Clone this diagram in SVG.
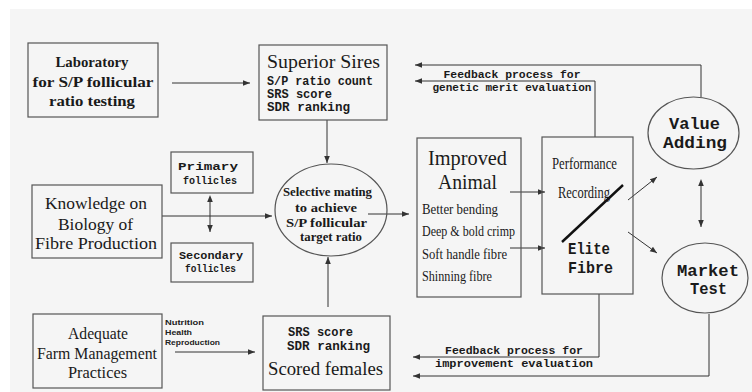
<svg xmlns="http://www.w3.org/2000/svg" width="752" height="392" viewBox="0 0 752 392">
<defs>
<style>
.box{fill:none;stroke:#555;stroke-width:1.2}
.ln{fill:none;stroke:#333;stroke-width:1}
.ser{font-family:"Liberation Serif","DejaVu Serif",serif;fill:#1a1a1a;text-anchor:middle}
.mono{font-family:"Liberation Mono","DejaVu Sans Mono",monospace;font-weight:bold;fill:#1a1a1a;text-anchor:middle}
.cond{font-family:"Liberation Serif","DejaVu Serif",serif;fill:#1a1a1a}
.sm{font-family:"Liberation Sans","DejaVu Sans",sans-serif;font-weight:bold;fill:#222;font-size:7px}
</style>
<marker id="ah" viewBox="0 0 10 10" refX="10" refY="5" markerWidth="7" markerHeight="7" orient="auto" markerUnits="userSpaceOnUse">
<path d="M0,1 L10,5 L0,9 z" fill="#333"/>
</marker>
<marker id="ahs" viewBox="0 0 10 10" refX="0" refY="5" markerWidth="7" markerHeight="7" orient="auto-start-reverse" markerUnits="userSpaceOnUse">
<path d="M0,1 L10,5 L0,9 z" fill="#333"/>
</marker>
</defs>
<rect x="0" y="0" width="752" height="392" fill="#ffffff"/>
<rect x="10" y="9" width="742" height="383" fill="#f5f5f5"/>

<g id="connectors">
<line class="ln" x1="172" y1="83" x2="250" y2="83" marker-end="url(#ah)"/>
<line class="ln" x1="327" y1="120" x2="327" y2="163" marker-end="url(#ah)"/>
<line class="ln" x1="162" y1="216" x2="272" y2="216" marker-end="url(#ah)"/>
<line class="ln" x1="210" y1="202" x2="210" y2="232" marker-start="url(#ahs)" marker-end="url(#ah)"/>
<line class="ln" x1="328" y1="307" x2="328" y2="257" marker-end="url(#ah)"/>
<line class="ln" x1="175" y1="352" x2="255" y2="352" marker-end="url(#ah)"/>
<line class="ln" x1="368" y1="214" x2="409" y2="214" marker-end="url(#ah)"/>
<line class="ln" x1="510" y1="192" x2="545" y2="192" marker-end="url(#ah)"/>
<line class="ln" x1="510" y1="248" x2="545" y2="248" marker-end="url(#ah)"/>
<line class="ln" x1="628" y1="200" x2="657" y2="177" marker-end="url(#ah)"/>
<line class="ln" x1="628" y1="232" x2="657" y2="253" marker-end="url(#ah)"/>
<line class="ln" x1="701" y1="186" x2="701" y2="227" marker-start="url(#ahs)" marker-end="url(#ah)"/>
<line x1="562" y1="242" x2="623" y2="185" stroke="#111" stroke-width="2.4"/>
<polyline class="ln" points="701,97 701,65 415,65" marker-end="url(#ah)"/>
<polyline class="ln" points="595,137 595,81 415,81" marker-end="url(#ah)"/>
<polyline class="ln" points="709,314 709,376 413,376" marker-end="url(#ah)"/>
<polyline class="ln" points="599,294 599,357 413,357" marker-end="url(#ah)"/>
<text class="mono" font-size="11" x="512" y="78" textLength="137" lengthAdjust="spacingAndGlyphs">Feedback process for</text>
<text class="mono" font-size="11" x="512" y="91" textLength="159" lengthAdjust="spacingAndGlyphs">genetic merit evaluation</text>
<text class="mono" font-size="11" x="514" y="354" textLength="138" lengthAdjust="spacingAndGlyphs">Feedback process for</text>
<text class="mono" font-size="11" x="514" y="367" textLength="158" lengthAdjust="spacingAndGlyphs">improvement evaluation</text>
<text class="sm" x="165" y="325" textLength="39" lengthAdjust="spacingAndGlyphs">Nutrition</text>
<text class="sm" x="165" y="335" textLength="27" lengthAdjust="spacingAndGlyphs">Health</text>
<text class="sm" x="165" y="345" textLength="55" lengthAdjust="spacingAndGlyphs">Reproduction</text>
</g>

<g id="laboratory">
<rect class="box" x="28" y="43" width="130" height="74"/>
<text class="ser" font-weight="bold" font-size="15" x="92" y="67" textLength="73" lengthAdjust="spacingAndGlyphs">Laboratory</text>
<text class="ser" font-weight="bold" font-size="15" x="93" y="87" textLength="121" lengthAdjust="spacingAndGlyphs">for S/P follicular</text>
<text class="ser" font-weight="bold" font-size="15" x="92" y="106" textLength="86" lengthAdjust="spacingAndGlyphs">ratio testing</text>
</g>

<g id="superior-sires">
<rect class="box" x="259" y="45" width="128" height="75"/>
<text class="ser" font-size="18" x="323.5" y="68" textLength="113" lengthAdjust="spacingAndGlyphs">Superior Sires</text>
<text class="mono" font-size="12" x="320" y="85" textLength="106" lengthAdjust="spacingAndGlyphs" text-anchor="start" style="text-anchor:start" dx="-53">S/P ratio count</text>
<text class="mono" font-size="12" x="267" y="98" textLength="65" lengthAdjust="spacingAndGlyphs" style="text-anchor:start">SRS score</text>
<text class="mono" font-size="12" x="267" y="111" textLength="83" lengthAdjust="spacingAndGlyphs" style="text-anchor:start">SDR ranking</text>
</g>

<g id="knowledge">
<rect class="box" x="32" y="185" width="130" height="73"/>
<text class="ser" font-size="17" x="96" y="209" textLength="102" lengthAdjust="spacingAndGlyphs">Knowledge on</text>
<text class="ser" font-size="17" x="95.5" y="230" textLength="75" lengthAdjust="spacingAndGlyphs">Biology of</text>
<text class="ser" font-size="17" x="96" y="249" textLength="122" lengthAdjust="spacingAndGlyphs">Fibre Production</text>
</g>

<g id="primary-follicles">
<rect class="box" x="171" y="152" width="82" height="41"/>
<text class="mono" font-size="11" x="208" y="170" textLength="60" lengthAdjust="spacingAndGlyphs">Primary</text>
<text class="mono" font-size="11" x="210" y="184" textLength="54" lengthAdjust="spacingAndGlyphs">follicles</text>
</g>

<g id="secondary-follicles">
<rect class="box" x="171" y="243" width="82" height="39"/>
<text class="mono" font-size="11" x="211" y="259" textLength="64" lengthAdjust="spacingAndGlyphs">Secondary</text>
<text class="mono" font-size="11" x="210.5" y="272" textLength="51" lengthAdjust="spacingAndGlyphs">follicles</text>
</g>

<g id="selective-mating">
<ellipse class="box" cx="331" cy="210" rx="56" ry="46"/>
<text class="ser" font-weight="bold" font-size="12" x="327.5" y="196" textLength="89" lengthAdjust="spacingAndGlyphs">Selective mating</text>
<text class="ser" font-weight="bold" font-size="12" x="326" y="212" textLength="62" lengthAdjust="spacingAndGlyphs">to achieve</text>
<text class="ser" font-weight="bold" font-size="12" x="326.5" y="227" textLength="81" lengthAdjust="spacingAndGlyphs">S/P follicular</text>
<text class="ser" font-weight="bold" font-size="12" x="331" y="241" textLength="62" lengthAdjust="spacingAndGlyphs">target ratio</text>
</g>

<g id="adequate-farm">
<rect class="box" x="33" y="314" width="129" height="74"/>
<text class="ser" font-size="17" x="98" y="339" textLength="60" lengthAdjust="spacingAndGlyphs">Adequate</text>
<text class="ser" font-size="17" x="97" y="359" textLength="120" lengthAdjust="spacingAndGlyphs">Farm Management</text>
<text class="ser" font-size="17" x="97.5" y="378" textLength="59" lengthAdjust="spacingAndGlyphs">Practices</text>
</g>

<g id="scored-females">
<rect class="box" x="263" y="316" width="127" height="74"/>
<text class="mono" font-size="12" x="320.5" y="336" textLength="65" lengthAdjust="spacingAndGlyphs">SRS score</text>
<text class="mono" font-size="12" x="328.5" y="350" textLength="83" lengthAdjust="spacingAndGlyphs">SDR ranking</text>
<text class="ser" font-size="19" x="325.5" y="375" textLength="115" lengthAdjust="spacingAndGlyphs">Scored females</text>
</g>

<g id="improved-animal">
<rect class="box" x="417" y="138" width="104" height="159"/>
<text class="ser" font-size="21" x="467.5" y="165" textLength="79" lengthAdjust="spacingAndGlyphs">Improved</text>
<text class="ser" font-size="21" x="467.5" y="189" textLength="59" lengthAdjust="spacingAndGlyphs">Animal</text>
<text class="cond" font-size="15" x="422" y="214" textLength="76" lengthAdjust="spacingAndGlyphs">Better bending</text>
<text class="cond" font-size="15" x="422" y="236" textLength="93" lengthAdjust="spacingAndGlyphs">Deep &amp; bold crimp</text>
<text class="cond" font-size="15" x="422" y="259" textLength="85" lengthAdjust="spacingAndGlyphs">Soft handle fibre</text>
<text class="cond" font-size="15" x="422" y="281" textLength="70" lengthAdjust="spacingAndGlyphs">Shinning fibre</text>
</g>

<g id="performance-recording">
<rect class="box" x="542" y="137" width="91" height="157"/>
<text class="ser" font-size="16" x="584.5" y="169" textLength="65" lengthAdjust="spacingAndGlyphs">Performance</text>
<text class="ser" font-size="16" x="584" y="198" textLength="52" lengthAdjust="spacingAndGlyphs">Recording</text>
<text class="mono" font-size="17" x="589" y="254" textLength="42" lengthAdjust="spacingAndGlyphs">Elite</text>
<text class="mono" font-size="17" x="590.5" y="273" textLength="45" lengthAdjust="spacingAndGlyphs">Fibre</text>
</g>

<g id="value-adding">
<ellipse class="box" cx="693.5" cy="133" rx="45.5" ry="36"/>
<text class="mono" font-size="17" x="694.5" y="129" textLength="51" lengthAdjust="spacingAndGlyphs">Value</text>
<text class="mono" font-size="17" x="695" y="148" textLength="64" lengthAdjust="spacingAndGlyphs">Adding</text>
</g>

<g id="market-test">
<ellipse class="box" cx="705" cy="278" rx="43" ry="35"/>
<text class="mono" font-size="17" x="708" y="276" textLength="62" lengthAdjust="spacingAndGlyphs">Market</text>
<text class="mono" font-size="17" x="708.5" y="294" textLength="37" lengthAdjust="spacingAndGlyphs">Test</text>
</g>
</svg>
